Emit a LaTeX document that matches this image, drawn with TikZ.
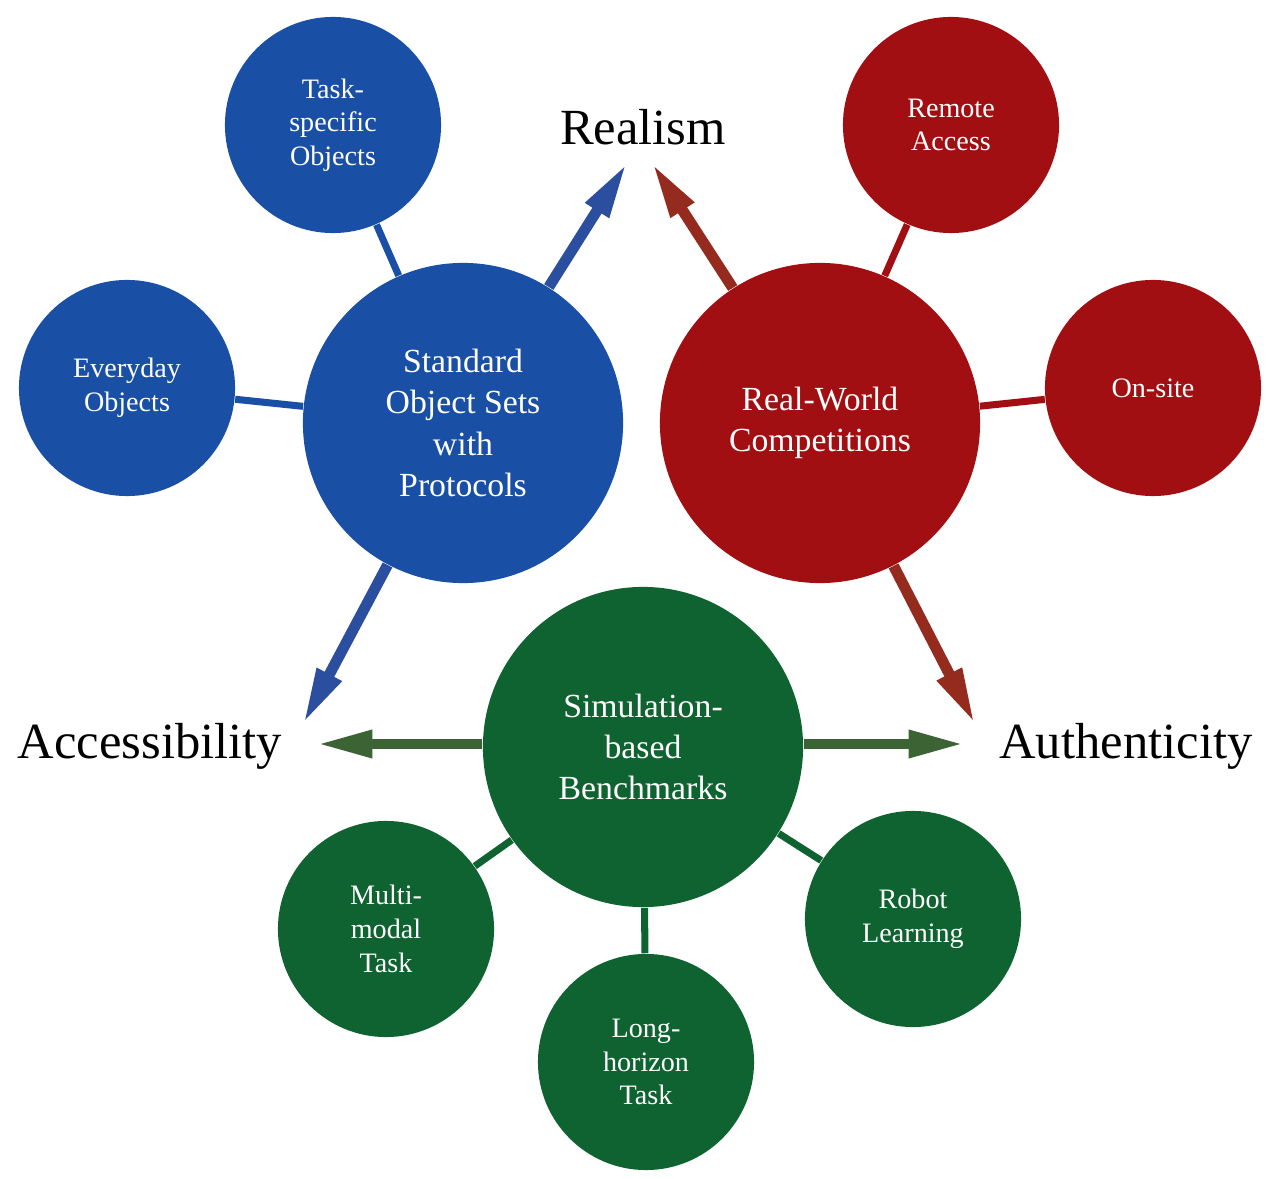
\documentclass[tikz,border=0pt]{standalone}
\usepackage{fontspec}
\setmainfont{Liberation Serif}
\usetikzlibrary{arrows.meta}
\definecolor{bluec}{HTML}{1A4FA6}
\definecolor{bluea}{HTML}{2C4E9F}
\definecolor{redc}{HTML}{A20F12}
\definecolor{reda}{HTML}{952A1F}
\definecolor{greenc}{HTML}{0F6330}
\definecolor{greena}{HTML}{3B6334}
\tikzset{
  big/.style={circle,minimum size=3.2cm,inner sep=0pt,align=center,text=white,
    font=\fontsize{9.6}{11.7}\selectfont},
  small/.style={circle,minimum size=2.16cm,inner sep=0pt,align=center,text=white,
    font=\fontsize{8}{9.6}\selectfont},
  lbl/.style={font=\fontsize{14.4}{17}\selectfont,inner sep=0pt},
  conn/.style={line width=2pt},
  bigarrow/.style={line width=3.1pt,-{Triangle[length=16pt,width=7.2pt]}},
}
\begin{document}
\begin{tikzpicture}[x=0.01cm,y=-0.01cm]
\useasboundingbox (0,0) rectangle (1275,1179);
% main circles
\node[big,fill=bluec] (std) at (463,423) {Standard\\Object Sets\\with\\Protocols};
\node[big,fill=redc] (rw) at (820,423) {Real-World\\Competitions};
\node[big,fill=greenc] (sim) at (643,747) {Simulation-\\based\\Benchmarks};
% small circles
\node[small,fill=bluec] (task) at (333,125) {Task-\\specific\\Objects};
\node[small,fill=bluec] (every) at (127,388) {Everyday\\Objects};
\node[small,fill=redc] (remote) at (951,125) {Remote\\Access};
\node[small,fill=redc] (onsite) at (1153,388) {On-site};
\node[small,fill=greenc] (multi) at (386,929) {Multi-\\modal\\Task};
\node[small,fill=greenc] (long) at (646,1062) {Long-\\horizon\\Task};
\node[small,fill=greenc] (robot) at (913,919) {Robot\\Learning};
% labels
\node[lbl] (realism) at (643,127) {Realism};
\node[lbl] (access) at (150,746) {Accessibility};
\node[lbl] (auth) at (1126,746) {Authenticity};
% arrow tips
\coordinate (t1) at (627,163);
\coordinate (t2) at (652,163);
\coordinate (t3) at (303,724);
\coordinate (t4) at (975,724);
\coordinate (t5) at (316,744);
\coordinate (t6) at (965,744);
% connectors
\draw[conn,bluec] (task) -- (std);
\draw[conn,bluec] (every) -- (std);
\draw[conn,redc] (remote) -- (rw);
\draw[conn,redc] (onsite) -- (rw);
\draw[conn,greenc] (multi) -- (sim);
\draw[conn,greenc] (long) -- (sim);
\draw[conn,greenc] (robot) -- (sim);
% arrows
\draw[bigarrow,bluea] (std) -- (t1);
\draw[bigarrow,bluea] (std) -- (t3);
\draw[bigarrow,reda] (rw) -- (t2);
\draw[bigarrow,reda] (rw) -- (t4);
\draw[bigarrow,greena] (sim.west |- t5) -- (t5);
\draw[bigarrow,greena] (sim.east |- t6) -- (t6);
\end{tikzpicture}
\end{document}
